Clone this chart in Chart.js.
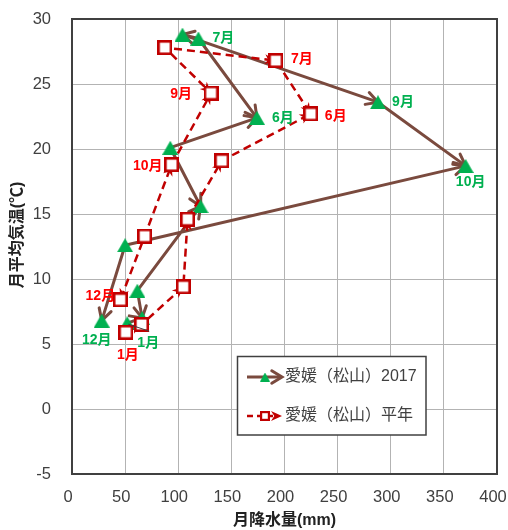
<!DOCTYPE html>
<html><head><meta charset="utf-8">
<script src="https://cdn.jsdelivr.net/npm/chart.js@4.4.0/dist/chart.umd.min.js"></script>
<style>html,body{margin:0;padding:0;background:#fff;}#wrap{width:508px;height:530px;position:relative;}</style>
</head><body><div id="wrap"><canvas id="c" width="508" height="530"></canvas></div>
<script>
// ---- data ----
const months = ['1月','2月','3月','4月','5月','6月','7月','8月','9月','10月','11月','12月'];
const rain2017 = [52, 66, 61.5, 121, 92.5, 174, 119, 104, 288, 370.5, 50, 28];
const temp2017 = [6.6, 7.0, 9.1, 15.6, 20.1, 22.4, 28.5, 28.8, 23.6, 18.7, 12.6, 6.8];
const rainNormal = [50.7, 65.5, 104.8, 108.8, 141.0, 224.7, 191.8, 87.3, 130.9, 93.8, 68.4, 45.5];
const tempNormal = [5.9, 6.5, 9.4, 14.6, 19.1, 22.7, 26.8, 27.8, 24.3, 18.8, 13.3, 8.4];
const xTicks = [0, 50, 100, 150, 200, 250, 300, 350, 400];
const yTicks = [-5, 0, 5, 10, 15, 20, 25, 30];
const seriesNames = ['愛媛（松山）2017', '愛媛（松山）平年'];
const xTitle = '月降水量(mm)';
const yTitle = '月平均気温(℃)';

// ---- styles ----
const BROWN = '#7A4A3E', GREEN = '#00B050', DRED = '#C00000';
const FONT = '"Liberation Sans", "Noto Sans CJK JP", sans-serif';
// which end of each segment carries the arrowhead
const brownArrowAt = ['end','start','end','start','end','start','end','end','end','start','end'];
const redArrowAt   = ['end','end','end','end','end','start','start','end','start','start','end'];
// month labels: series, month index, offset
const labelSpecs = [
  {s:0, m:6, dx:25, dy:0}, {s:0, m:5, dx:26, dy:0}, {s:0, m:8, dx:25, dy:0},
  {s:0, m:9, dx:5, dy:16}, {s:0, m:11, dx:-5, dy:20}, {s:0, m:0, dx:21, dy:20, leader:true},
  {s:1, m:6, dx:26, dy:-1}, {s:1, m:5, dx:25, dy:2}, {s:1, m:8, dx:-30, dy:1},
  {s:1, m:9, dx:-24, dy:2}, {s:1, m:11, dx:-20, dy:-4}, {s:1, m:0, dx:2, dy:23}
];

function makeTri(w, h, color) {
  const c = document.createElement('canvas'); c.width = w; c.height = h;
  const g = c.getContext('2d'); g.fillStyle = color;
  g.beginPath(); g.moveTo(w/2, 0); g.lineTo(w, h); g.lineTo(0, h); g.closePath(); g.fill();
  return c;
}
function makeSq(s, lw, color) {
  const c = document.createElement('canvas'); c.width = s; c.height = s;
  const g = c.getContext('2d'); g.fillStyle = '#fff'; g.fillRect(0, 0, s, s);
  g.strokeStyle = color; g.lineWidth = lw; g.strokeRect(lw/2, lw/2, s - lw, s - lw);
  return c;
}
const triImg = makeTri(16, 14, GREEN);
const sqImg = makeSq(15, 2.6, DRED);

const pts2017 = rain2017.map((x, i) => ({x, y: temp2017[i]}));
const ptsNormal = rainNormal.map((x, i) => ({x, y: tempNormal[i]}));

function openArrow(ctx, tx, ty, ang, len, spread, color, lw) {
  ctx.save(); ctx.strokeStyle = color; ctx.lineWidth = lw; ctx.lineCap = 'round'; ctx.lineJoin = 'miter';
  ctx.beginPath();
  ctx.moveTo(tx - len*Math.cos(ang - spread), ty - len*Math.sin(ang - spread));
  ctx.lineTo(tx, ty);
  ctx.lineTo(tx - len*Math.cos(ang + spread), ty - len*Math.sin(ang + spread));
  ctx.stroke(); ctx.restore();
}
function stealthArrow(ctx, tx, ty, ang, len, hw, color) {
  ctx.save(); ctx.fillStyle = color; ctx.beginPath();
  const c = Math.cos(ang), s = Math.sin(ang);
  ctx.moveTo(tx, ty);
  ctx.lineTo(tx - len*c + hw*s, ty - len*s - hw*c);
  ctx.lineTo(tx - len*0.7*c, ty - len*0.7*s);
  ctx.lineTo(tx - len*c - hw*s, ty - len*s + hw*c);
  ctx.closePath(); ctx.fill(); ctx.restore();
}

const arrowPlugin = {
  id: 'arrows',
  afterDatasetDraw(chart, args) {
    const idx = args.index;
    if (idx !== 0 && idx !== 2) return;
    const meta = chart.getDatasetMeta(idx);
    const ends = idx === 0 ? brownArrowAt : redArrowAt;
    const ctx = chart.ctx;
    ctx.save();
    const a = chart.chartArea;
    ctx.beginPath(); ctx.rect(a.left, a.top, a.right - a.left, a.bottom - a.top); ctx.clip();
    for (let i = 0; i < meta.data.length - 1; i++) {
      const p = meta.data[i], q = meta.data[i+1];
      let from = p, to = q;
      if (ends[i] === 'start') { from = q; to = p; }
      const ang = Math.atan2(to.y - from.y, to.x - from.x);
      if (idx === 0) openArrow(ctx, to.x, to.y, ang, 13, 0.5, BROWN, 3);
      else stealthArrow(ctx, to.x, to.y, ang, 11, 5, DRED);
    }
    ctx.restore();
  }
};

const framePlugin = {
  id: 'frame',
  beforeDatasetsDraw(chart) {
    const a = chart.chartArea, ctx = chart.ctx;
    ctx.save(); ctx.strokeStyle = '#404040'; ctx.lineWidth = 2;
    ctx.strokeRect(a.left, a.top, a.right - a.left, a.bottom - a.top);
    ctx.restore();
  }
};

const labelPlugin = {
  id: 'monthLabels',
  afterDatasetsDraw(chart) {
    const ctx = chart.ctx;
    const xs = chart.scales.x, ys = chart.scales.y;
    ctx.save();
    ctx.font = 'bold 14px ' + FONT; ctx.textAlign = 'center'; ctx.textBaseline = 'middle';
    labelSpecs.forEach(l => {
      const px = l.s === 0 ? rain2017[l.m] : rainNormal[l.m];
      const py = l.s === 0 ? temp2017[l.m] : tempNormal[l.m];
      const x = xs.getPixelForValue(px), y = ys.getPixelForValue(py);
      if (l.leader) {
        ctx.save(); ctx.strokeStyle = '#404040'; ctx.lineWidth = 1;
        ctx.beginPath(); ctx.moveTo(x + 1, y + 1); ctx.lineTo(x + 22, y + 8); ctx.stroke(); ctx.restore();
      }
      ctx.fillStyle = l.s === 0 ? GREEN : '#FF0000';
      ctx.fillText(months[l.m], x + l.dx, y + l.dy);
    });
    ctx.restore();
  }
};

const yTitlePlugin = {
  id: 'yTitle',
  afterDraw(chart) {
    const ctx = chart.ctx;
    ctx.save();
    ctx.translate(18, 235); ctx.rotate(-Math.PI / 2);
    ctx.fillStyle = '#222'; ctx.font = 'bold 16px ' + FONT; ctx.textAlign = 'center'; ctx.textBaseline = 'middle';
    ctx.fillText(yTitle, 0, 0);
    ctx.restore();
  }
};

const legendPlugin = {
  id: 'customLegend',
  afterDraw(chart) {
    const ctx = chart.ctx;
    const bx = 237.5, by = 356.5, bw = 188.5, bh = 78.5;
    ctx.save();
    ctx.fillStyle = '#fff'; ctx.fillRect(bx, by, bw, bh);
    ctx.strokeStyle = '#404040'; ctx.lineWidth = 1.5; ctx.strokeRect(bx, by, bw, bh);
    let y = 377;
    ctx.strokeStyle = BROWN; ctx.lineWidth = 3; ctx.beginPath(); ctx.moveTo(247, y); ctx.lineTo(281, y); ctx.stroke();
    openArrow(ctx, 282, y, 0, 12, 0.55, BROWN, 3);
    ctx.drawImage(makeTri(10, 9, GREEN), 260, y - 4.5);
    y = 416;
    ctx.strokeStyle = DRED; ctx.lineWidth = 2.5; ctx.setLineDash([6, 4]);
    ctx.beginPath(); ctx.moveTo(247, y); ctx.lineTo(277, y); ctx.stroke(); ctx.setLineDash([]);
    stealthArrow(ctx, 282, y, 0, 11, 5, DRED);
    ctx.drawImage(makeSq(10, 2.2, DRED), 260, y - 5);
    ctx.fillStyle = '#404040'; ctx.font = '16px ' + FONT; ctx.textAlign = 'left'; ctx.textBaseline = 'middle';
    ctx.fillText(seriesNames[0], 285, 377);
    ctx.fillText(seriesNames[1], 285, 416);
    ctx.restore();
  }
};

function zeroPad(s) { s.paddingLeft = 0; s.paddingRight = 0; s.paddingTop = 0; s.paddingBottom = 0; }
const tickFont = {size: 16.5, family: FONT};
new Chart(document.getElementById('c'), {
  type: 'scatter',
  data: {
    datasets: [
      {label: seriesNames[0], data: pts2017, showLine: true, borderColor: BROWN, borderWidth: 3,
       pointRadius: 0, borderJoinStyle: 'round', order: 6},
      {label: seriesNames[0], data: pts2017, showLine: false, pointStyle: triImg, pointRadius: 8,
       backgroundColor: GREEN, borderColor: GREEN, order: 5},
      {label: seriesNames[1], data: ptsNormal, showLine: true, borderColor: DRED, borderWidth: 2.5,
       borderDash: [8, 5], pointRadius: 0, order: 4},
      {label: seriesNames[1], data: ptsNormal, showLine: false, pointStyle: sqImg, pointRadius: 8,
       backgroundColor: '#fff', borderColor: DRED, order: 3}
    ]
  },
  options: {
    responsive: false, animation: false, devicePixelRatio: 1,
    layout: {autoPadding: false, padding: {left: 0, right: 11, top: 19, bottom: 0}},
    plugins: {legend: {display: false}, tooltip: {enabled: false}},
    scales: {
      x: {
        type: 'linear', min: 0, max: 400,
        afterBuildTicks: s => { s.ticks = xTicks.map(v => ({value: v})); },
        afterFit: s => { s.height = 56; zeroPad(s); },
        grid: {color: '#B3B3B3', lineWidth: 1, drawTicks: false},
        border: {display: false},
        ticks: {padding: 14, font: tickFont, color: '#404040', maxRotation: 0, labelOffset: -4},
        title: {display: true, text: xTitle, color: '#222', font: {size: 16, weight: 'bold', family: FONT}, padding: {top: 0, bottom: 0}}
      },
      y: {
        type: 'linear', min: -5, max: 30,
        afterBuildTicks: s => { s.ticks = yTicks.map(v => ({value: v})); },
        afterFit: s => { s.width = 72; zeroPad(s); },
        grid: {color: '#B3B3B3', lineWidth: 1, drawTicks: false},
        border: {display: false},
        ticks: {padding: 21, font: tickFont, color: '#404040'},
        title: {display: false, text: yTitle}
      }
    }
  },
  plugins: [arrowPlugin, framePlugin, labelPlugin, yTitlePlugin, legendPlugin]
});
</script></body></html>
